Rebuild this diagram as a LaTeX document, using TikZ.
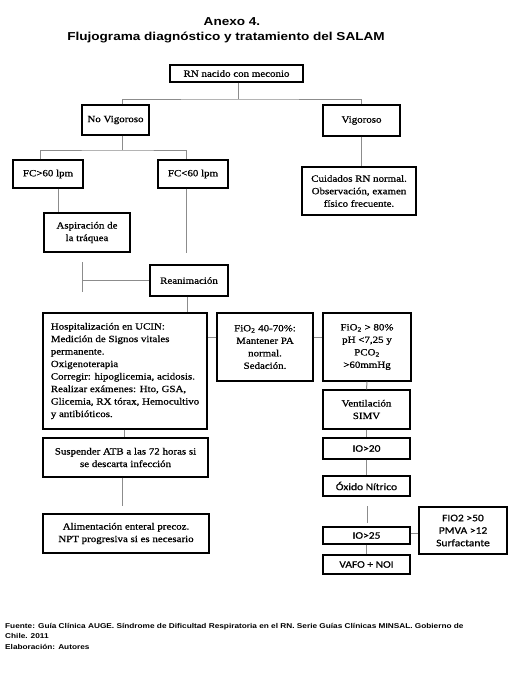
\documentclass[tikz,border=0pt]{standalone}
\usepackage{fontspec}
\setmainfont{Liberation Serif}[FakeStretch=1.15,FakeBold=0.8]
\newfontfamily\boxsans{Carlito}[FakeStretch=1.15,FakeBold=0.8]
\newfontfamily\headsans{Liberation Sans}[FakeStretch=1.18]
\usetikzlibrary{positioning,calc}

\begin{document}
\begin{tikzpicture}[x=1pt,y=-1pt,
  box/.style={draw=black, line width=1.3pt, align=center, inner sep=2pt,
    font=\fontsize{9.5}{12.5}\selectfont},
  sbox/.style={box, font=\boxsans\fontsize{10}{12.5}\selectfont},
  link/.style={draw=black!45, line width=1pt}]
\useasboundingbox (0,0) rectangle (521,686);

% title
\node[font=\headsans\bfseries\fontsize{11.5}{13}\selectfont] (head1) at (232,22) {Anexo 4.};
\node[font=\headsans\bfseries\fontsize{11.5}{13}\selectfont] (head2) at (226,37) {Flujograma diagnóstico y tratamiento del SALAM};

% boxes
\node[box, minimum width=133pt, minimum height=17pt] (rn) at (236.5,73.5) {RN nacido con meconio};
\node[box, minimum width=67pt, minimum height=30pt] (nov) at (115.5,120) {No Vigoroso};
\node[box, minimum width=77pt, minimum height=31pt] (vig) at (361.5,120.5) {Vigoroso};
\node[box, minimum width=114pt, minimum height=48pt] (cuid) at (359,191) {Cuidados RN normal.\\Observación, examen\\físico frecuente.};
\node[box, minimum width=70pt, minimum height=28pt] (fcmas) at (48,174) {FC>60 lpm};
\node[box, minimum width=70pt, minimum height=28pt] (fcmen) at (193,174) {FC<60 lpm};
\node[box, minimum width=86pt, minimum height=39pt] (asp) at (87,232.5) {Aspiración de\\la tráquea};
\node[box, minimum width=78pt, minimum height=31pt] (rean) at (189,280.5) {Reanimación};
\node[box, minimum width=164pt, minimum height=116pt, align=left] (hosp) at (125,371)
  {Hospitalización en UCIN:\\Medición de Signos vitales\\permanente.\\Oxigenoterapia\\Corregir: hipoglicemia, acidosis.\\Realizar exámenes: Hto, GSA,\\Glicemia, RX tórax, Hemocultivo\\y antibióticos.};
\node[box, minimum width=96pt, minimum height=68pt] (fio1) at (265,347) {FiO\textsubscript{2} 40-70\%:\\Mantener PA\\normal.\\Sedación.};
\node[box, minimum width=88pt, minimum height=68pt] (fio2) at (367,347) {FiO\textsubscript{2} > 80\%\\pH <7,25 y\\PCO\textsubscript{2}\\>60mmHg};
\node[box, minimum width=87pt, minimum height=39pt] (vent) at (366.5,409.5) {Ventilación\\SIMV};
\node[sbox, minimum width=87pt, minimum height=21pt] (io20) at (366.5,448.5) {IO>20};
\node[sbox, minimum width=87pt, minimum height=20pt] (oxido) at (366.5,486) {Óxido Nítrico};
\node[sbox, minimum width=87pt, minimum height=17pt] (io25) at (366.5,535.5) {IO>25};
\node[sbox, minimum width=87pt, minimum height=19pt] (vafo) at (366.5,564.5) {VAFO + NOI};
\node[sbox, minimum width=88pt, minimum height=47pt] (fio3) at (463,530.5) {FIO2 >50\\PMVA >12\\Surfactante};
\node[box, minimum width=165pt, minimum height=39pt] (susp) at (125.5,457.5) {Suspender ATB a las 72 horas si\\se descarta infección};
\node[box, minimum width=166pt, minimum height=39pt] (alim) at (126,533.5) {Alimentación enteral precoz.\\NPT progresiva si es necesario};

% connectors
\coordinate (j0) at (238,99);
\draw[link] (rn.south -| j0) -- (j0);
\draw[link] ([xshift=6.5pt]nov.north) |- (j0) -| (vig.north);
\draw[link] (vig.south) -- (vig.south |- cuid.north);
\coordinate (j1) at (122,150);
\draw[link] ([xshift=6.5pt]nov.south) -- (j1);
\draw[link] ([xshift=-8pt]fcmas.north) |- (j1) -| ([xshift=-7pt]fcmen.north);
\draw[link] ([xshift=10pt]fcmas.south) -- ([xshift=10pt]fcmas.south |- asp.north);
\coordinate (e1) at (186,253);
\draw[link] ([xshift=-7pt]fcmen.south) -- (e1);
\coordinate (t1) at (82,262);
\coordinate (t2) at (82,292);
\draw[link] (t1) -- (t2);
\draw[link] (rean.west) -- (rean.west -| t1);
\draw[link] ([xshift=-2pt]rean.south) -- ([xshift=-2pt]rean.south |- hosp.north);
\draw[link] ([yshift=10pt]fio1.west) -- ([yshift=10pt]fio1.west -| hosp.east);
\draw[link] ([yshift=10pt]fio1.east) -- ([yshift=10pt]fio2.west);
\draw[link] (fio2.south) -- (vent.north);
\draw[link] (vent.south) -- (io20.north);
\draw[link] (io20.south) -- (oxido.north);
\coordinate (g1) at (367,506);
\coordinate (g2) at (367,523);
\draw[link] (g1) -- (g2);
\draw[link] ([yshift=2.5pt]io25.east) -- ([yshift=2.5pt]io25.east -| fio3.west);
\draw[link] (io25.south) -- (vafo.north);
\draw[link] ([xshift=-1pt]hosp.south) -- ([xshift=-1pt]hosp.south |- susp.north);
\coordinate (e2) at (122,506);
\draw[link] (susp.south -| e2) -- (e2);

% source
\node[anchor=north west, inner sep=0pt, align=left, font=\headsans\bfseries\fontsize{7}{10.5}\selectfont] (src) at (5,623)
  {Fuente: Guía Clínica AUGE. Síndrome de Dificultad Respiratoria en el RN. Serie Guías Clínicas MINSAL. Gobierno de\\Chile. 2011\\Elaboración: Autores};
\end{tikzpicture}
\end{document}
